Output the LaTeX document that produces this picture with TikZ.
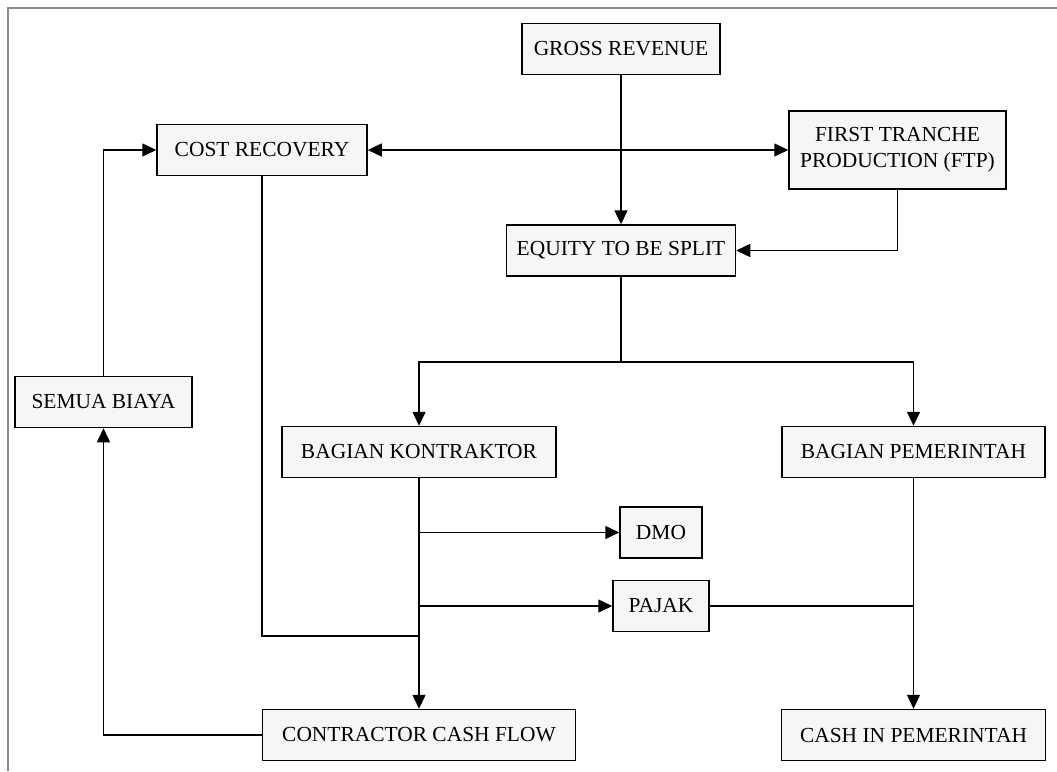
\documentclass[tikz,border=0pt]{standalone}
\usepackage{fontspec}
\setmainfont{Liberation Serif}
\usetikzlibrary{arrows.meta}
\definecolor{boxfill}{HTML}{F6F6F6}
\definecolor{framegray}{HTML}{8A8A8A}
\begin{document}
\begin{tikzpicture}[
	box/.style={draw,line width=0.85pt,fill=boxfill,minimum height=1.02cm,inner sep=2pt,align=center,font=\fontsize{12.2}{15}\selectfont},
	flow/.style={line width=0.85pt,-{Triangle[length=0.28cm,width=0.26cm]}},
	link/.style={line width=0.85pt}]
		\useasboundingbox (0,0) rectangle (21.14,-15.42);
		\draw[framegray,line width=1pt] (0.16,-15.42) -- (0.16,-0.16) -- (21.14,-0.16);
		\node[box,minimum width=3.96cm] (gross) at (12.42,-0.98) {GROSS REVENUE};
		\node[box,minimum width=4.34cm,minimum height=1.56cm] (ftp) at (17.95,-3.0) {FIRST TRANCHE\\PRODUCTION (FTP)};
		\node[box,minimum width=4.58cm] (equity) at (12.42,-5.01) {EQUITY TO BE SPLIT};
		\node[box,minimum width=4.2cm] (cost) at (5.24,-3.0) {COST RECOVERY};
		\node[box,minimum width=3.54cm] (semua) at (2.07,-8.04) {SEMUA BIAYA};
		\node[box,minimum width=5.48cm] (kontraktor) at (8.38,-9.04) {BAGIAN KONTRAKTOR};
		\node[box,minimum width=5.26cm] (pemerintah) at (18.27,-9.04) {BAGIAN PEMERINTAH};
		\node[box,minimum width=1.64cm] (dmo) at (13.22,-10.65) {DMO};
		\node[box,minimum width=1.92cm] (pajak) at (13.22,-12.12) {PAJAK};
		\node[box,minimum width=6.26cm] (ccf) at (8.38,-14.7) {CONTRACTOR CASH FLOW};
		\node[box,minimum width=5.28cm] (cip) at (18.27,-14.7) {CASH IN PEMERINTAH};
		\coordinate (split) at (12.42,-7.24);
		\coordinate (join) at (8.38,-12.72);
		% top part
		\draw[flow] (gross.south) -- (equity.north);
		\draw[flow,{Triangle[length=0.28cm,width=0.26cm]}-{Triangle[length=0.28cm,width=0.26cm]}] (cost.east) -- (ftp.west);
		\draw[flow] (ftp.south) |- (equity.east);
		\draw[link] (equity.south) -- (split);
		\draw[flow] (split) -| (kontraktor.north);
		\draw[flow] (split) -| (pemerintah.north);
		% contractor side
		\draw[flow] (kontraktor.south) -- (ccf.north);
		\draw[flow] (kontraktor.south |- dmo.west) -- (dmo.west);
		\draw[flow] (kontraktor.south |- pajak.west) -- (pajak.west);
		\draw[link] (cost.south) |- (join);
		\draw[flow] (ccf.west) -| (semua.south);
		\draw[flow] (semua.north) |- (cost.west);
		% government side
		\draw[link] (pajak.east) -- (pemerintah.south |- pajak.east);
		\draw[flow] (pemerintah.south) -- (cip.north);
\end{tikzpicture}
\end{document}
